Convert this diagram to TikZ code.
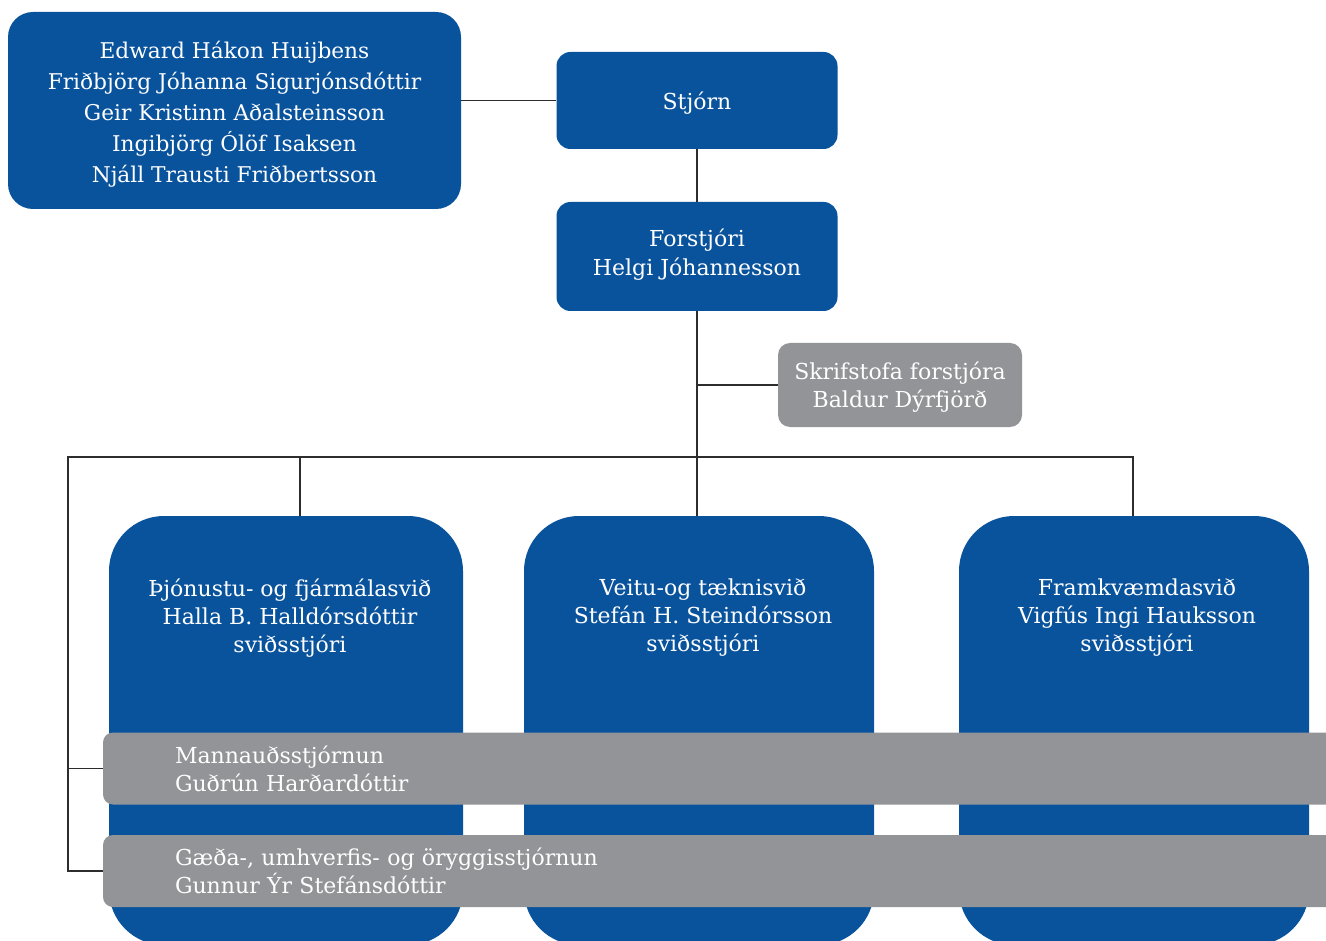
\documentclass[tikz,border=0pt]{standalone}
\usepackage{fontspec}
\setmainfont{DejaVu Serif}
\usetikzlibrary{positioning}
\definecolor{boxblue}{RGB}{9,83,157}
\definecolor{boxgray}{RGB}{147,148,151}
\definecolor{linecolor}{RGB}{45,45,45}
\newcommand{\orgfont}[2]{\fontsize{#1}{#2}\selectfont}

\begin{document}
\begin{tikzpicture}[%
    x=1pt, y=-1pt,              % one unit is one pixel of the chart
    every join/.style={conn},
    ]
\tikzset{
  base/.style={draw=none, text=white, align=center, inner sep=0pt},
  board/.style={base, fill=boxblue, rounded corners=25pt, minimum width=453pt, minimum height=197pt},
  head/.style={base, fill=boxblue, rounded corners=14pt, minimum width=281pt},
  staff/.style={base, fill=boxgray, rounded corners=12pt, minimum width=244pt, minimum height=84pt},
  div/.style={base, fill=boxblue, rounded corners=55pt, minimum width=350pt, minimum height=429pt},
  boxtext/.style={base, font=\orgfont{22}{28}},
  bar/.style={base, fill=boxgray, rounded corners=10pt, align=left, text width=1113pt, inner xsep=72pt, minimum height=72pt, font=\orgfont{22}{28}},
  conn/.style={draw=linecolor, line width=1.5pt},
}
\useasboundingbox (0,0) rectangle (1326,941);
\clip (0,0) rectangle (1326,941);

\node [board] (p0) at (234.5,110.5) {};
\node [head, minimum height=97pt] (p1) at (697,100.5) {};
\node [head, minimum height=109pt] (p2) at (697,256.5) {};
\node [staff] (s1) at (900,385) {};
\node [boxtext, font=\orgfont{21.7}{31}, yshift=-3.5pt] (t0) at (p0) {Edward Hákon Huijbens\\Friðbjörg Jóhanna Sigurjónsdóttir\\Geir Kristinn Aðalsteinsson\\Ingibjörg Ólöf Isaksen\\Njáll Trausti Friðbertsson};
\node [boxtext, yshift=-2.5pt] (t1) at (p1) {Stjórn};
\node [boxtext, font=\orgfont{22}{29}, yshift=1.5pt] (t2) at (p2) {Forstjóri\\Helgi Jóhannesson};
\node [boxtext, yshift=-2.5pt] (t3) at (s1) {Skrifstofa forstjóra\\Baldur Dýrfjörð};

\node [div, minimum width=354pt] (d1) at (286,730.5) {};
\node [div] (d2) at (699,730.5) {};
\node [div] (d3) at (1134,730.5) {};
\node [boxtext, below=62.5pt of d1.north, xshift=4pt] (t4) {Þjónustu- og fjármálasvið\\Halla B. Halldórsdóttir\\sviðsstjóri};
\node [boxtext, below=62.5pt of d2.north, xshift=4pt] (t5) {Veitu-og tæknisvið\\Stefán H. Steindórsson\\sviðsstjóri};
\node [boxtext, below=62.5pt of d3.north, xshift=3pt] (t6) {Framkvæmdasvið\\Vigfús Ingi Hauksson\\sviðsstjóri};

\node [bar] (b1) at (731.5,768.5) {Mannauðsstjórnun\\Guðrún Harðardóttir};
\node [bar] (b2) at (731.5,871) {Gæða-, umhverfis- og öryggisstjórnun\\Gunnur Ýr Stefánsdóttir};

\coordinate (busl) at (68,457);
\coordinate (j1) at (300,457);
\coordinate (j3) at (1133,457);

% connect
\draw [conn] (p1.west -| p0.east) -- (p1.west);
\draw [conn] (p1.south) -- (p2.north);
\draw [conn] (p2.south) -- (p2.south |- d2.north);
\draw [conn] (p2.south |- s1.west) -- (s1.west);
\draw [conn] (j3 |- d3.north) -- (j3) -- (busl) -- (busl |- b2.west) -- (b2.west);
\draw [conn] (j1) -- (j1 |- d1.north);
\draw [conn] (busl |- b1.west) -- (b1.west);

\end{tikzpicture}
\end{document}
